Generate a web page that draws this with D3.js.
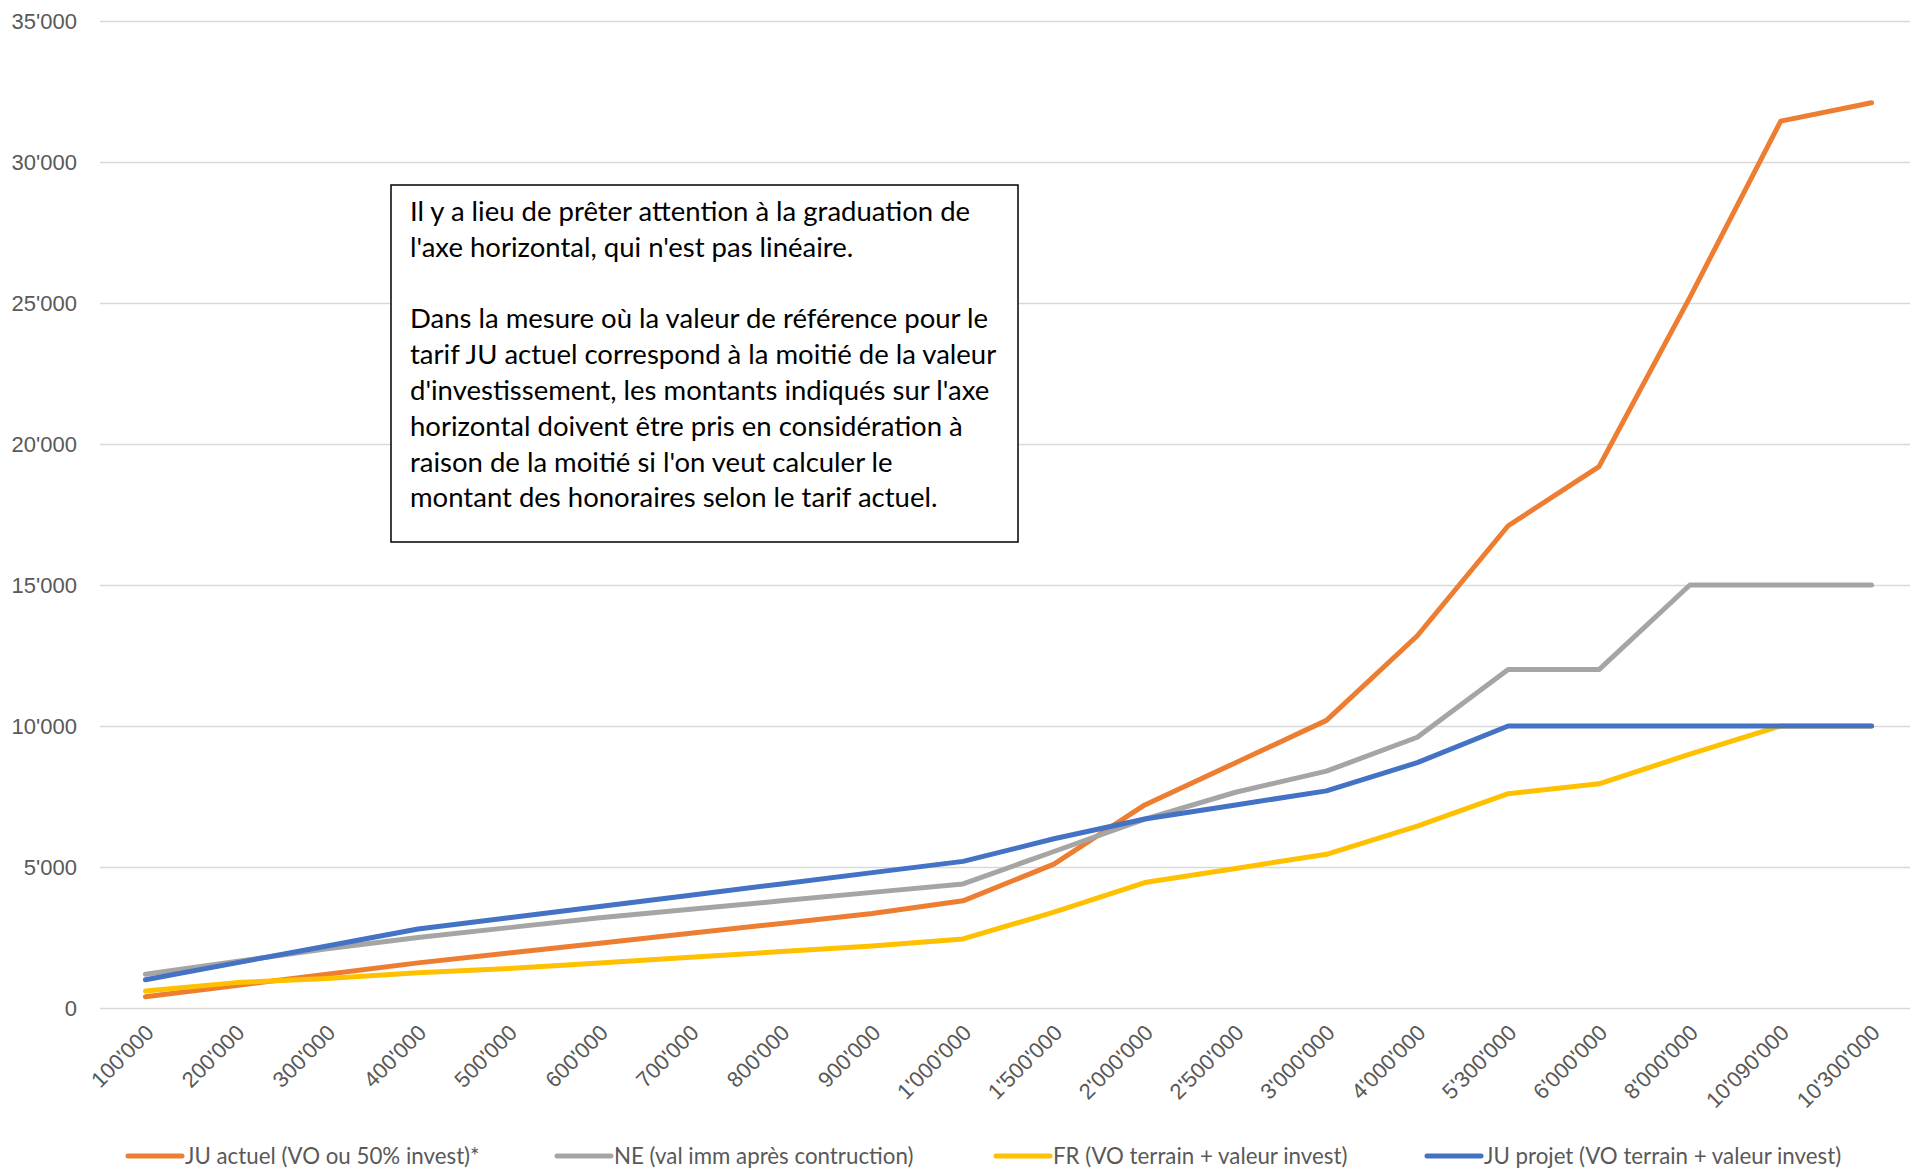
<!DOCTYPE html>
<html>
<head>
<meta charset="utf-8">
<script src="https://cdn.jsdelivr.net/npm/d3@7"></script>
<style>
  body { margin: 0; background: #fff; }
  svg { font-family: Lato, "Open Sans", sans-serif; }
</style>
</head>
<body>
<div id="chartPlot"></div>
<script>
const categories = [
  "100'000", "200'000", "300'000", "400'000", "500'000", "600'000", "700'000",
  "800'000", "900'000", "1'000'000", "1'500'000", "2'000'000", "2'500'000",
  "3'000'000", "4'000'000", "5'300'000", "6'000'000", "8'000'000",
  "10'090'000", "10'300'000",
];

const juActuel = [400, 800, 1200, 1600, 1950, 2300, 2650, 3000, 3350, 3800,
  5100, 7200, 8700, 10200, 13200, 17100, 19200, 25200, 31450, 32100];
const neValImm = [1200, 1650, 2100, 2500, 2850, 3200, 3500, 3800, 4100, 4400,
  5550, 6700, 7650, 8400, 9600, 12000, 12000, 15000, 15000, 15000];
const frTerrain = [600, 900, 1050, 1250, 1400, 1600, 1800, 2000, 2200, 2450,
  3400, 4450, 4950, 5450, 6450, 7600, 7950, 9000, 10000, 10000];
const juProjet = [1000, 1600, 2200, 2800, 3200, 3600, 4000, 4400, 4800, 5200,
  6000, 6700, 7200, 7700, 8700, 10000, 10000, 10000, 10000, 10000];

const seriesNames = [
  "JU actuel (VO ou 50% invest)*",
  "NE (val imm après contruction)",
  "FR (VO terrain + valeur invest)",
  "JU projet (VO terrain + valeur invest)",
];
const seriesColors = ["#ED7D31", "#A5A5A5", "#FFC000", "#4472C4"];
const yTicks = [0, 5000, 10000, 15000, 20000, 25000, 30000, 35000];

const noteLines = [
  "Il y a lieu de prêter attention à la graduation de",
  "l'axe horizontal, qui n'est pas linéaire.",
  "",
  "Dans la mesure où la valeur de référence pour le",
  "tarif JU actuel correspond à la moitié de la valeur",
  "d'investissement, les montants indiqués sur l'axe",
  "horizontal doivent être pris en considération à",
  "raison de la moitié si l'on veut calculer le",
  "montant des honoraires selon le tarif actuel.",
];

const width = 1910;
const height = 1171;
const plot = { left: 100, right: 1917, top: 21, bottom: 1008 };

const svg = d3.select("#chartPlot")
  .append("svg")
  .attr("width", width)
  .attr("height", height);

const x = d3.scalePoint()
  .domain(categories)
  .range([plot.left, plot.right])
  .padding(0.5);

const y = d3.scaleLinear()
  .domain([0, 35000])
  .range([plot.bottom, plot.top]);

const fmt = (v) => (v === 0 ? "0" : d3.format(",")(v).replace(/,/g, "'"));

// gridlines + y labels
const yAxis = svg.append("g")
  .attr("transform", `translate(${plot.left},0)`)
  .call(d3.axisLeft(y).tickValues(yTicks).tickSize(-(width - plot.left)).tickFormat(fmt));
yAxis.select(".domain").remove();
yAxis.selectAll(".tick line").attr("stroke", "#d9d9d9").attr("stroke-width", 1.5);
yAxis.selectAll(".tick text")
  .attr("x", -23)
  .attr("fill", "#595959")
  .style("font-size", "22px");

// x labels, rotated
const xAxis = svg.append("g")
  .attr("transform", `translate(0,${plot.bottom})`)
  .call(d3.axisBottom(x).tickSize(0));
xAxis.select(".domain").remove();
xAxis.selectAll(".tick text")
  .attr("fill", "#595959")
  .style("font-size", "22px")
  .attr("text-anchor", "end")
  .attr("dy", 0)
  .attr("transform", "translate(7,24) rotate(-45)");

// lines
const allSeries = [juActuel, neValImm, frTerrain, juProjet];
const line = d3.line()
  .x((d, i) => x(categories[i]))
  .y((d) => y(d));

svg.append("g")
  .selectAll("path")
  .data(allSeries)
  .enter()
  .append("path")
  .attr("d", line)
  .attr("fill", "none")
  .attr("stroke", (d, i) => seriesColors[i])
  .attr("stroke-width", 5)
  .attr("stroke-linejoin", "round")
  .attr("stroke-linecap", "round");

// note box
const note = svg.append("g").attr("transform", "translate(391,185)");
note.append("rect")
  .attr("width", 627)
  .attr("height", 357)
  .attr("fill", "#fff")
  .attr("stroke", "#000")
  .attr("stroke-width", 1.5);
note.selectAll("text")
  .data(noteLines)
  .enter()
  .append("text")
  .attr("x", 19)
  .attr("y", (d, i) => 36 + i * 35.8)
  .attr("fill", "#000")
  .style("font-size", "27.5px")
  .text((d) => d);

// legend
const legendX = [128, 557, 996, 1427];
const legend = svg.append("g")
  .selectAll("g")
  .data(seriesNames)
  .enter()
  .append("g")
  .attr("transform", (d, i) => `translate(${legendX[i]},1156)`);
legend.append("line")
  .attr("x1", 0)
  .attr("x2", 54)
  .attr("stroke", (d, i) => seriesColors[i])
  .attr("stroke-width", 5)
  .attr("stroke-linecap", "round");
legend.append("text")
  .attr("x", 57)
  .attr("dy", "0.35em")
  .attr("fill", "#595959")
  .style("font-size", "22.3px")
  .text((d) => d);
</script>
</body>
</html>
